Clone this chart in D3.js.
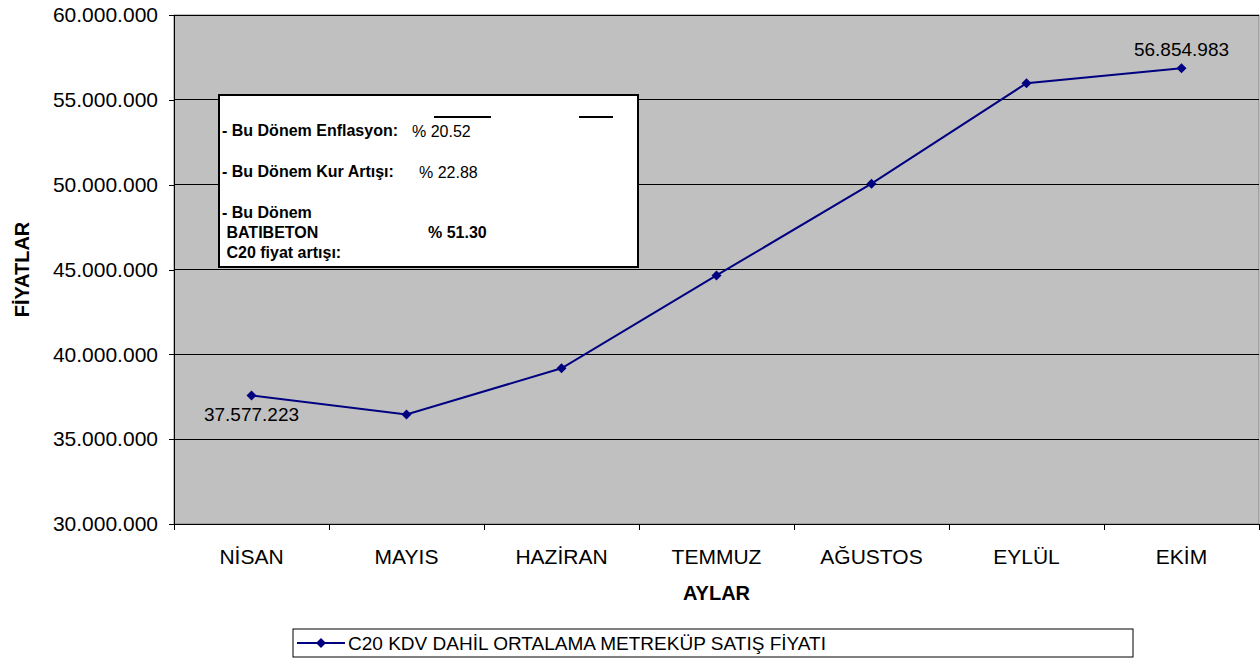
<!DOCTYPE html>
<html>
<head>
<meta charset="utf-8">
<script src="https://cdn.jsdelivr.net/npm/d3@7"></script>
<style>
body { margin: 0; background: #fff; }
svg { display: block; font-family: "Liberation Sans", Arial, sans-serif; }
</style>
</head>
<body>
<svg id="chart" width="1260" height="659"></svg>
<script>
// data
var months = ["NİSAN", "MAYIS", "HAZİRAN", "TEMMUZ", "AĞUSTOS", "EYLÜL", "EKİM"];
var prices = [37577223, 36450000, 39180000, 44650000, 50060000, 55980000, 56854983];
var yTicks = [30000000, 35000000, 40000000, 45000000, 50000000, 55000000, 60000000];
var labelled = [0, 6]; // first and last point get value labels
var seriesName = "C20 KDV DAHİL ORTALAMA METREKÜP SATIŞ FİYATI";
var boxRows = [
    {lines: ["- Bu Dönem Enflasyon:"], value: "% 20.52", bold: false},
    {lines: ["- Bu Dönem Kur Artışı:"], value: "% 22.88", bold: false},
    {lines: ["- Bu Dönem", " BATIBETON", " C20 fiyat artışı:"], value: "% 51.30", bold: true}
];

var svg = d3.select("#chart"),
    margin = {top: 15, right: 1, bottom: 135, left: 174},
    width = 1260 - margin.left - margin.right,
    height = 659 - margin.top - margin.bottom,
    g = svg.append("g").attr("transform", "translate(" + margin.left + "," + margin.top + ")");

var tr = d3.formatLocale({decimal: ",", thousands: ".", grouping: [3], currency: ["", ""]});
var fmt = tr.format(",d");

var x = d3.scaleBand().domain(months).range([0, width]).padding(0);
var y = d3.scaleLinear().domain([30000000, 60000000]).range([height, 0]);

// plot background
g.append("rect")
    .attr("width", width).attr("height", height)
    .attr("fill", "#c0c0c0").attr("stroke", "#808080");

// gridlines
g.selectAll(".grid").data(yTicks.slice(1)).enter().append("line")
    .attr("class", "grid")
    .attr("x1", 0).attr("x2", width)
    .attr("y1", d => y(d)).attr("y2", d => y(d))
    .attr("stroke", "#000").attr("stroke-width", 1).attr("shape-rendering", "crispEdges");

// y axis
var yAxis = g.append("g").call(d3.axisLeft(y).tickValues(yTicks).tickFormat(fmt).tickSize(5).tickPadding(11));
yAxis.selectAll("text").style("font-size", "21px").attr("fill", "#000");
yAxis.selectAll("line, path").attr("stroke", "#000").attr("shape-rendering", "crispEdges");

// x axis with ticks at category boundaries
var xAxis = g.append("g").attr("transform", "translate(0," + height + ")");
xAxis.append("line").attr("x1", 0).attr("x2", width).attr("stroke", "#000").attr("shape-rendering", "crispEdges");
xAxis.selectAll(".xt").data(months.concat(["_end"])).enter().append("line")
    .attr("x1", (d, i) => i * x.step()).attr("x2", (d, i) => i * x.step())
    .attr("y1", 0).attr("y2", 6)
    .attr("stroke", "#000").attr("shape-rendering", "crispEdges");
xAxis.selectAll(".xl").data(months).enter().append("text")
    .attr("x", d => x(d) + x.bandwidth() / 2)
    .attr("y", 40)
    .attr("text-anchor", "middle")
    .style("font-size", "21px")
    .text(d => d);

// axis titles
svg.append("text")
    .attr("transform", "translate(29," + (margin.top + height / 2) + ") rotate(-90)")
    .attr("text-anchor", "middle")
    .style("font-size", "20px").style("font-weight", "bold")
    .text("FİYATLAR");
svg.append("text")
    .attr("x", margin.left + width / 2).attr("y", 600)
    .attr("text-anchor", "middle")
    .style("font-size", "20px").style("font-weight", "bold")
    .text("AYLAR");

// series line
var line = d3.line().x((d, i) => x(months[i]) + x.bandwidth() / 2).y(d => y(d));
g.append("path").datum(prices)
    .attr("d", line)
    .attr("fill", "none").attr("stroke", "#000080").attr("stroke-width", 2);

// diamond = square turned 45 degrees
var diamond = d3.symbol().type(d3.symbolSquare).size(50);
g.selectAll(".pt").data(prices).enter().append("path")
    .attr("transform", (d, i) => "translate(" + (x(months[i]) + x.bandwidth() / 2) + "," + y(d) + ") rotate(45)")
    .attr("d", diamond)
    .attr("fill", "#000080");

// value labels
g.selectAll(".vl").data(labelled).enter().append("text")
    .attr("x", i => x(months[i]) + x.bandwidth() / 2)
    .attr("y", i => i == 0 ? y(prices[i]) + 26 : y(prices[i]) - 12)
    .attr("text-anchor", "middle")
    .style("font-size", "19px")
    .text(i => fmt(prices[i]));

// info box
var box = svg.append("g").attr("transform", "translate(219,95)");
box.append("rect").attr("width", 419).attr("height", 172)
    .attr("fill", "#fff").attr("stroke", "#000").attr("stroke-width", 2);
box.append("line").attr("x1", 215).attr("x2", 272).attr("y1", 22).attr("y2", 22).attr("stroke", "#000").attr("stroke-width", 2);
box.append("line").attr("x1", 360).attr("x2", 394).attr("y1", 22).attr("y2", 22).attr("stroke", "#000").attr("stroke-width", 2);
var rowY = [41, 82, 123];
var valX = [193, 200, 209];
boxRows.forEach(function(r, k) {
    r.lines.forEach(function(t, j) {
        box.append("text")
            .attr("x", 3).attr("y", rowY[k] + j * 20)
            .attr("xml:space", "preserve")
            .style("font-size", "16px").style("font-weight", "bold")
            .text(t);
    });
    box.append("text")
        .attr("x", valX[k]).attr("y", r.bold ? rowY[k] + 20 : rowY[k] + 1)
        .style("font-size", "16px").style("font-weight", r.bold ? "bold" : "normal")
        .text(r.value);
});

// legend
var legend = svg.append("g").attr("transform", "translate(293,629)");
legend.append("rect").attr("width", 840).attr("height", 28)
    .attr("fill", "#fff").attr("stroke", "#000");
legend.append("line").attr("x1", 4).attr("x2", 52).attr("y1", 14).attr("y2", 14)
    .attr("stroke", "#000080").attr("stroke-width", 2);
legend.append("path").attr("transform", "translate(28,14) rotate(45)").attr("d", diamond).attr("fill", "#000080");
legend.append("text").attr("x", 55).attr("y", 21)
    .style("font-size", "18px")
    .attr("textLength", 478).attr("lengthAdjust", "spacingAndGlyphs")
    .text(seriesName);
</script>
</body>
</html>
